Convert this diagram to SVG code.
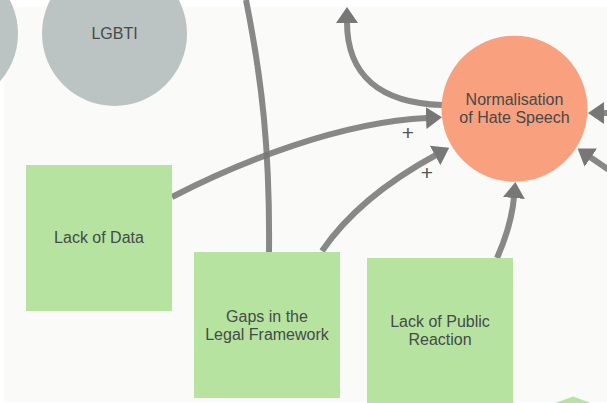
<svg xmlns="http://www.w3.org/2000/svg" width="607" height="403" viewBox="0 0 607 403">
<defs>
<style>
.bg{fill:#fafaf8}
.gray{fill:#bcc3c3}
.red{fill:#f9a07f}
.green{fill:#b7e3a0}
.lbl{font-family:"Liberation Sans",Arial,sans-serif;font-size:16px;fill:#454a4a;text-anchor:middle}
.plus{font-family:"Liberation Sans",Arial,sans-serif;font-size:21px;fill:#555555;text-anchor:middle}
.edge{fill:none;stroke:#777;stroke-opacity:0.88;stroke-width:6}
</style>
<marker id="ah" markerUnits="userSpaceOnUse" markerWidth="16" markerHeight="22" refX="1" refY="11" orient="auto" viewBox="0 0 16 22">
<path d="M0,0 L16,11 L0,22 z" fill="#777"/>
</marker>
</defs>
<rect width="607" height="403" fill="#ffffff"/>
<rect class="bg" x="4" y="7" width="603" height="395"/>
<g id="node-left-circle"><circle class="gray" cx="-54.5" cy="33.5" r="72.5"/></g>
<g id="node-lgbti"><circle class="gray" cx="114.5" cy="33.5" r="72.5"/><text class="lbl" x="114.5" y="39">LGBTI</text></g>
<g id="connectors">
<path class="edge" d="M269,252 C270,150 262,80 246,0"/>
<path class="edge" d="M172,197 C240,162 340,122 427,118" marker-end="url(#ah)"/>
<path class="edge" d="M322,251 C350,210 390,180 436,155" marker-end="url(#ah)"/>
<path class="edge" d="M442,105 C380,103 347,75 347,22" marker-end="url(#ah)"/>
<path class="edge" d="M620,113 L603,113" marker-end="url(#ah)"/>
<path class="edge" d="M625,181 L590,157" marker-end="url(#ah)"/>
<path class="edge" d="M497,258 C505,240 512,220 514,197" marker-end="url(#ah)"/>
<text class="plus" x="408" y="140">+</text>
<text class="plus" x="427" y="180">+</text>
</g>
<g id="node-normalisation"><circle class="red" cx="514.5" cy="108.7" r="73"/><text class="lbl" x="514.5" y="104.5">Normalisation<tspan x="514.5" dy="18">of Hate Speech</tspan></text></g>
<g id="node-lack-of-data"><rect class="green" x="26" y="165" width="146" height="146"/><text class="lbl" x="99" y="243">Lack of Data</text></g>
<g id="node-gaps"><rect class="green" x="194" y="252" width="146" height="146"/><text class="lbl" x="267" y="321.5">Gaps in the<tspan x="267" dy="18">Legal Framework</tspan></text></g>
<g id="node-public-reaction"><rect class="green" x="367" y="258" width="146" height="160"/><text class="lbl" x="440" y="327">Lack of Public<tspan x="440" dy="18">Reaction</tspan></text></g>
<g id="node-bottom-right"><polygon class="green" points="573,396.5 640,421 573,446 506,421"/></g>
</svg>
